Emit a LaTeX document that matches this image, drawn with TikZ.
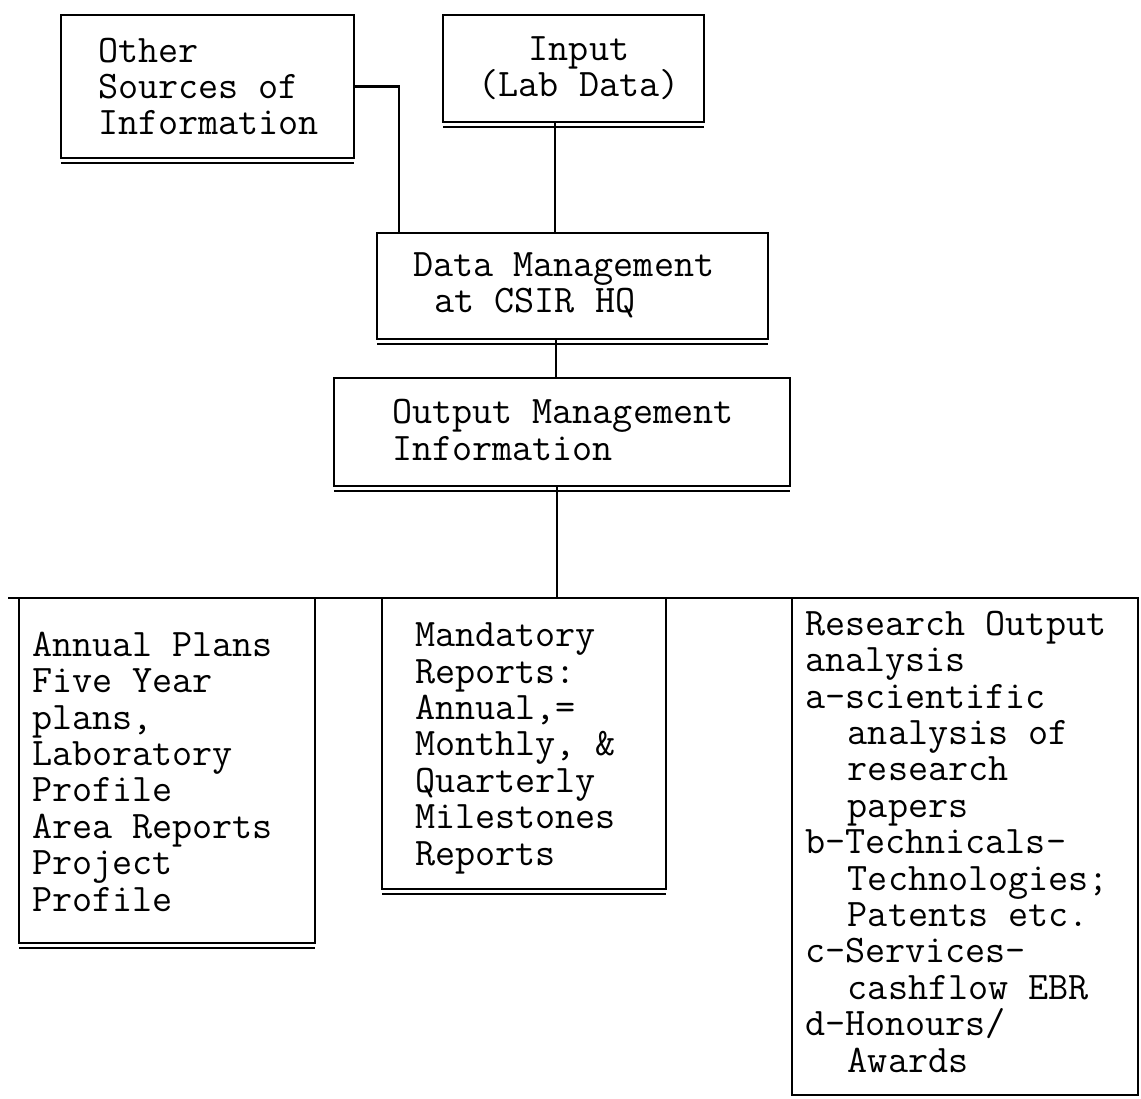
\documentclass[tikz,border=0pt]{standalone}
\usepackage{fontspec}
\begin{document}
\begin{tikzpicture}[x=1pt, y=-1pt,
  frame/.style={draw, line width=2.2pt, inner sep=0pt, outer sep=0pt, anchor=north west},
  txt/.style={font=\ttfamily\fontsize{39}{36.4}\selectfont\addfontfeature{LetterSpace=2.5},
    inner sep=0pt, outer sep=0pt, align=left, anchor=base west},
  link/.style={line width=2.2pt}]
  \useasboundingbox[fill=white] (0,0) rectangle (1141,1099);

  % box frames
  \node[frame, minimum width=293pt, minimum height=143pt] (os) at (61,15) {};
  \node[frame, minimum width=261pt, minimum height=107pt] (inp) at (443,15) {};
  \node[frame, minimum width=391pt, minimum height=106pt] (dm) at (377,233) {};
  \node[frame, minimum width=456pt, minimum height=108pt] (omi) at (334,378) {};
  \node[frame, minimum width=296pt, minimum height=345pt] (plans) at (19,598) {};
  \node[frame, minimum width=284pt, minimum height=291pt] (mand) at (382,598) {};
  \node[frame, minimum width=346pt, minimum height=497pt] (research) at (792,598) {};

  % second line under each box
  \foreach \b in {os,inp,dm,omi,plans,mand,research}
    \draw[link] ([yshift=-5pt]\b.south west) -- ([yshift=-5pt]\b.south east);

  % box texts (placed by the baseline of their last line)
  \node[txt] (ost) at (98,135) {Other\\Sources of\\Information};
  \node[txt, align=center, anchor=base] (inpt) at (579,97) {Input\\(Lab Data)};
  \node[txt] (dmt) at (413,313) {Data Management\\\hspace*{0.55em}at CSIR HQ};
  \node[txt] (omit) at (392,460) {Output Management\\Information};
  \node[txt] (planst) at (32,911) {Annual Plans\\Five Year\\plans,\\Laboratory\\Profile\\Area Reports\\Project\\Profile};
  \node[txt] (mandt) at (415,865) {Mandatory\\Reports:\\Annual,=\\Monthly, \&\\Quarterly\\Milestones\\Reports};
  \node[txt] (researcht) at (805,1072) {Research Output\\analysis\\a-scientific\\\hspace*{1.1em}analysis of\\\hspace*{1.1em}research\\\hspace*{1.1em}papers\\b-Technicals-\\\hspace*{1.1em}Technologies;\\\hspace*{1.1em}Patents etc.\\c-Services-\\\hspace*{1.1em}cashflow EBR\\d-Honours/\\\hspace*{1.1em}Awards};

  % connectors
  \coordinate (busL) at (8,598);
  \coordinate (busR) at (1138,598);
  \draw[link] (os.east) -| ([xshift=22pt]dm.north west);
  \draw[link] ([xshift=112pt]inp.south west) -- ([xshift=112pt]inp.south west |- dm.north);
  \draw[link] ([xshift=179pt]dm.south west) -- ([xshift=179pt]dm.south west |- omi.north);
  \draw[link] ([xshift=223pt]omi.south west) -- ([xshift=223pt]omi.south west |- busL);
  \draw[link] (busL) -- (busR);
\end{tikzpicture}
\end{document}
